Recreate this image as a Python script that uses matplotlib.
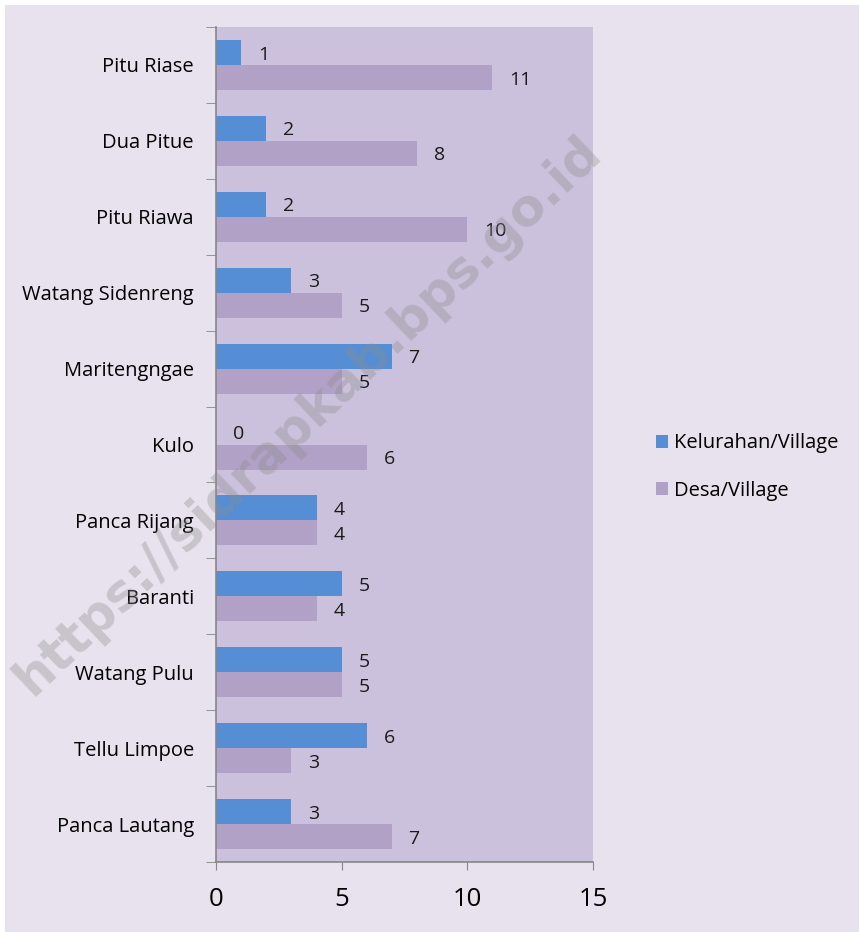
import matplotlib
matplotlib.use("Agg")
import matplotlib.pyplot as plt
import numpy as np
from matplotlib.patches import Rectangle

# categories from top to bottom as shown in the chart
districts = [
    "Pitu Riase", "Dua Pitue", "Pitu Riawa", "Watang Sidenreng",
    "Maritengngae", "Kulo", "Panca Rijang", "Baranti",
    "Watang Pulu", "Tellu Limpoe", "Panca Lautang",
]
kelurahan = [1, 2, 2, 3, 7, 0, 4, 5, 5, 6, 3]
desa = [11, 8, 10, 5, 5, 6, 4, 4, 5, 3, 7]
series_names = ["Kelurahan/Village", "Desa/Village"]
x_ticks = [0, 5, 10, 15]

BLUE = "#558ed5"
PURPLE = "#b2a1c7"
PLOT_BG = "#ccc1dc"
FIG_BG = "#e8e2ee"
AXIS = "#868686"

plt.rcParams["font.family"] = ["Open Sans", "DejaVu Sans"]

fig = plt.figure(figsize=(8.59, 9.32), dpi=100, facecolor="white")
fig.patches.append(Rectangle((5 / 859, 0), 1, 1 - 5 / 932, transform=fig.transFigure,
                             facecolor=FIG_BG, edgecolor="none", zorder=-10))

ax = fig.add_axes([216 / 859, 70 / 932, 377 / 859, 835 / 932])
ax.set_facecolor(PLOT_BG)

n = len(districts)
y = np.arange(n)[::-1]
h = 0.33
b1 = ax.barh(y + h / 2, kelurahan, height=h, color=BLUE, label=series_names[0])
b2 = ax.barh(y - h / 2, desa, height=h, color=PURPLE, label=series_names[1])

# value labels just right of each bar end
for bars, vals in ((b1, kelurahan), (b2, desa)):
    for bar, v in zip(bars, vals):
        ax.annotate(str(v), (v, bar.get_y() + bar.get_height() / 2),
                    xytext=(12, -1.5), textcoords="offset points",
                    ha="left", va="center", fontsize=14, color="#1a1a1a")

ax.set_xlim(0, 15)
ax.set_ylim(-0.5, n - 0.5)
ax.set_xticks(x_ticks)
ax.set_xticklabels([str(t) for t in x_ticks], fontsize=18.5)
ax.set_yticks(y)
ax.set_yticklabels(districts, fontsize=14.5)
ax.set_yticks(np.arange(-0.5, n, 1.0), minor=True)
ax.tick_params(axis="y", which="major", length=0, pad=16)
ax.tick_params(axis="y", which="minor", length=7, color=AXIS, direction="out")
ax.tick_params(axis="x", length=6, color=AXIS, direction="out", pad=12)

for side in ("top", "right"):
    ax.spines[side].set_visible(False)
for side in ("left", "bottom"):
    ax.spines[side].set_color(AXIS)
    ax.spines[side].set_linewidth(1.2)

leg = fig.legend(handles=[b1, b2], loc="center left", bbox_to_anchor=(638 / 859, 1 - 467 / 932),
                 frameon=False, fontsize=14.5, handlelength=0.6, handleheight=0.6,
                 handletextpad=0.3, labelspacing=1.35)

# watermark
fig.text(308 / 859, 1 - 416 / 932, "https://sidrapkab.bps.go.id", fontsize=37,
         fontweight="bold", color="#8c8c8c", alpha=0.35, rotation=43.5,
         ha="center", va="center", family=["DejaVu Sans"])

fig.savefig("out.png", dpi=100, facecolor=fig.get_facecolor())
